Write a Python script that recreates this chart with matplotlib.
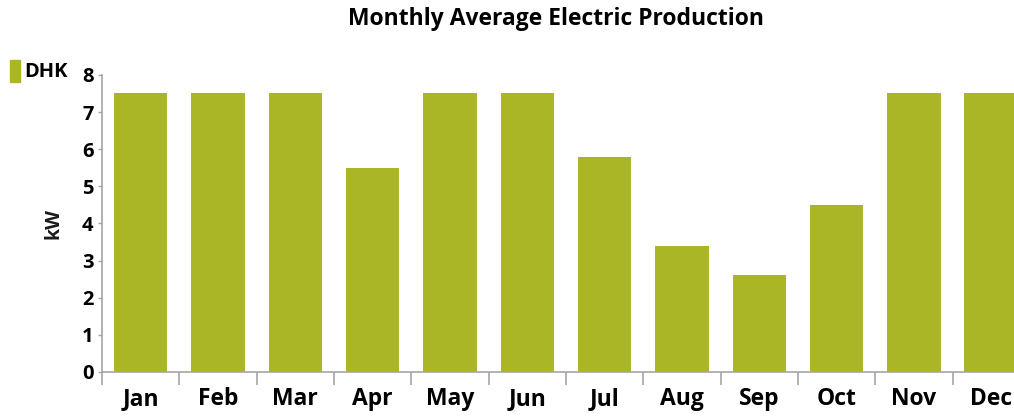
import numpy as np
import matplotlib.pyplot as plt

months = ['Jan', 'Feb', 'Mar', 'Apr', 'May', 'Jun', 'Jul', 'Aug', 'Sep', 'Oct', 'Nov', 'Dec']
production = [7.5, 7.5, 7.5, 5.5, 7.5, 7.5, 5.8, 3.4, 2.6, 4.5, 7.5, 7.5]
yticks = [0, 1, 2, 3, 4, 5, 6, 7, 8]

plt.rcParams['font.family'] = ['Open Sans', 'DejaVu Sans']
green = '#abb627'
grey = '#a6a6a6'

fig = plt.figure(figsize=(10.14, 4.16), dpi=100)
ax = fig.add_axes([0.1006, 0.106, 0.915, 0.714])

x = np.arange(len(months))
ax.bar(x, production, width=0.69, color=green)

ax.set_xlim(-0.5, len(months) - 0.5)
ax.set_ylim(0, 8)
ax.set_yticks(yticks)
ax.set_yticklabels([str(t) for t in yticks], fontsize=14.5, fontweight='bold')
ax.set_xticks(x)
ax.set_xticklabels(months, fontsize=16.5, fontweight='bold')
ax.tick_params(axis='x', length=0, pad=11)
# separators between months
ax.set_xticks(np.arange(len(months) + 1) - 0.5, minor=True)
ax.tick_params(axis='x', which='minor', length=9, color=grey, width=1.2)
ax.tick_params(axis='y', length=3, color=grey, width=1, pad=3)

for s in ['top', 'right']:
    ax.spines[s].set_visible(False)
for s in ['left', 'bottom']:
    ax.spines[s].set_color(grey)
    ax.spines[s].set_linewidth(1.2)

ax.set_ylabel('kW', fontsize=14, fontweight='bold', labelpad=13, color='#1a1a1a')
fig.text(0.548, 0.955, 'Monthly Average Electric Production', ha='center', va='center',
         fontsize=16.5, fontweight='bold')

# legend
fig.patches.append(plt.Rectangle((10 / 1014, 1 - 82 / 416), 10 / 1014, 22 / 416,
                                 transform=fig.transFigure, color=green))
fig.text(24 / 1014, 1 - 72 / 416, 'DHK', ha='left', va='center', fontsize=14.5, fontweight='bold')

fig.savefig('out.png', dpi=100)
